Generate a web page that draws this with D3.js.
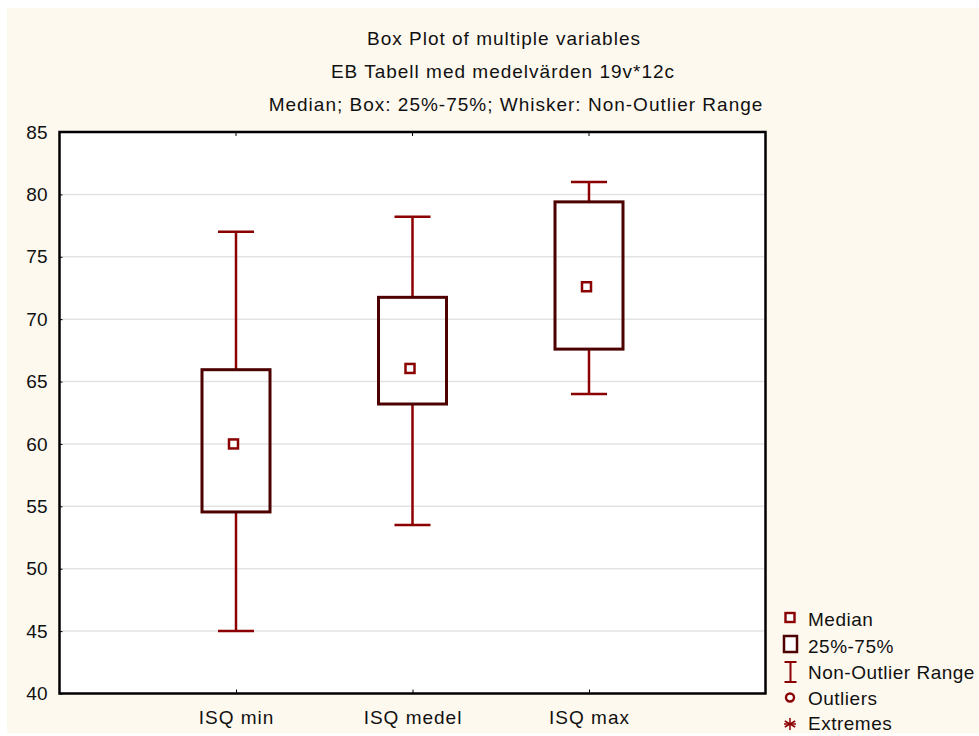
<!DOCTYPE html>
<html><head><meta charset="utf-8">
<script src="https://cdn.jsdelivr.net/npm/d3@7"></script>
<style>body{margin:0;background:#fff;}svg{display:block;font-family:"Liberation Sans",Arial,sans-serif;}</style>
</head><body>
<script>
const categories = ["ISQ min", "ISQ medel", "ISQ max"];
const whiskerLow  = [45, 53.5, 64.0];
const q1          = [54.55, 63.2, 67.6];
const median      = [60.0, 66.05, 72.6];
const q3          = [65.95, 71.75, 79.4];
const whiskerHigh = [77.0, 78.2, 81.0];
const yTicks = [40, 45, 50, 55, 60, 65, 70, 75, 80, 85];
const titles = ["Box Plot of multiple variables", "EB Tabell med medelvärden 19v*12c", "Median; Box: 25%-75%; Whisker: Non-Outlier Range"];
const legendLabels = ["Median", "25%-75%", "Non-Outlier Range", "Outliers", "Extremes"];

const W = 979, H = 736;
const L = 59.5, R = 765.5, T = 132, B = 693.5;
const FF = "Liberation Sans, Arial, sans-serif";
const svg = d3.select("body").append("svg").attr("width", W).attr("height", H);
svg.append("rect").attr("x", 7).attr("y", 8).attr("width", W - 7).attr("height", H - 11).attr("fill", "#fef9ef");
svg.append("rect").attr("x", L).attr("y", T).attr("width", R - L).attr("height", B - T).attr("fill", "#fff");

const y = d3.scaleLinear().domain([40, 85]).range([B, T]);
const x = d3.scalePoint().domain(categories).range([L, R]).padding(1);
const whisk = "#8b0000", boxC = "#4d0000";

// gridlines
svg.append("g").selectAll("line").data(yTicks.filter(d => d > 40 && d < 85)).join("line")
  .attr("x1", L).attr("x2", R).attr("y1", d => y(d)).attr("y2", d => y(d))
  .attr("stroke", "#e3e3e3").attr("stroke-width", 1.5);

// titles
const titleX = [504, 503, 516];
svg.append("g").selectAll("text").data(titles).join("text")
  .attr("x", (d, i) => titleX[i]).attr("y", (d, i) => 45 + i * 33).attr("text-anchor", "middle")
  .attr("font-size", 19).attr("letter-spacing", 1).attr("fill", "#111").text(d => d);

// y axis
const yAxis = svg.append("g").attr("transform", `translate(${L},0)`)
  .call(d3.axisLeft(y).tickValues(yTicks).tickSize(-3).tickPadding(12));
yAxis.select(".domain").remove();
yAxis.selectAll("text").attr("font-size", 19).attr("fill", "#111").attr("font-family", FF);
yAxis.selectAll("line").attr("stroke", "#000");

// x axis
const xAxis = svg.append("g").attr("transform", `translate(0,${B})`)
  .call(d3.axisBottom(x).tickSize(-4).tickPadding(17));
xAxis.select(".domain").remove();
xAxis.selectAll("text").attr("font-size", 19).attr("letter-spacing", 1).attr("fill", "#111").attr("font-family", FF);
xAxis.selectAll("line").attr("stroke", "#000");
svg.append("g").selectAll("line").data(categories).join("line")
  .attr("x1", d => x(d)).attr("x2", d => x(d)).attr("y1", T).attr("y2", T + 4).attr("stroke", "#000");

// boxes
const boxW = 68, capW = 36;
const g = svg.append("g");
categories.forEach((c, i) => {
  const cx = x(c);
  g.append("line").attr("x1", cx).attr("x2", cx).attr("y1", y(whiskerHigh[i])).attr("y2", y(q3[i])).attr("stroke", whisk).attr("stroke-width", 2.5);
  g.append("line").attr("x1", cx).attr("x2", cx).attr("y1", y(q1[i])).attr("y2", y(whiskerLow[i])).attr("stroke", whisk).attr("stroke-width", 2.5);
  [whiskerHigh[i], whiskerLow[i]].forEach(v => g.append("line").attr("x1", cx - capW / 2).attr("x2", cx + capW / 2).attr("y1", y(v)).attr("y2", y(v)).attr("stroke", whisk).attr("stroke-width", 2.5));
  g.append("rect").attr("x", cx - boxW / 2).attr("y", y(q3[i])).attr("width", boxW).attr("height", y(q1[i]) - y(q3[i]))
    .attr("fill", "none").attr("stroke", boxC).attr("stroke-width", 3);
  g.append("rect").attr("x", cx - 2.5 - 4.5).attr("y", y(median[i]) - 4.5).attr("width", 9).attr("height", 9)
    .attr("fill", "#fff").attr("stroke", whisk).attr("stroke-width", 2.5);
});

// frame
svg.append("rect").attr("x", L).attr("y", T).attr("width", R - L).attr("height", B - T).attr("fill", "none").attr("stroke", "#000").attr("stroke-width", 2.5);

// legend
const lg = svg.append("g");
const lb = [626, 652.5, 679, 704.5, 730];
legendLabels.forEach((t, i) => {
  lg.append("text").attr("x", 808).attr("y", lb[i]).attr("font-size", 19).attr("letter-spacing", 0.5).attr("fill", "#111").text(t);
});
const mx = 790;
lg.append("rect").attr("x", mx - 4.5).attr("y", 613).attr("width", 9).attr("height", 9).attr("fill", "#fff").attr("stroke", whisk).attr("stroke-width", 2.4);
lg.append("rect").attr("x", mx - 6).attr("y", 636).attr("width", 13).attr("height", 16).attr("fill", "#fff").attr("stroke", boxC).attr("stroke-width", 2.5);
lg.append("line").attr("x1", mx + 0.5).attr("x2", mx + 0.5).attr("y1", 662).attr("y2", 682).attr("stroke", whisk).attr("stroke-width", 2);
lg.append("line").attr("x1", mx - 5.5).attr("x2", mx + 6.5).attr("y1", 662).attr("y2", 662).attr("stroke", whisk).attr("stroke-width", 2);
lg.append("line").attr("x1", mx - 5.5).attr("x2", mx + 6.5).attr("y1", 682).attr("y2", 682).attr("stroke", whisk).attr("stroke-width", 2);
lg.append("circle").attr("cx", mx).attr("cy", 697.5).attr("r", 4).attr("fill", "#fff").attr("stroke", whisk).attr("stroke-width", 2.4);
const ast = lg.append("g").attr("transform", `translate(${mx},${724})`).attr("stroke", whisk).attr("stroke-width", 1.5);
[0, 60, 120].forEach(a => ast.append("line").attr("x1", 0).attr("y1", -6).attr("x2", 0).attr("y2", 6).attr("transform", `rotate(${a})`));
ast.append("line").attr("x1", -6).attr("x2", 6).attr("y1", 0).attr("y2", 0);
</script>
</body></html>
